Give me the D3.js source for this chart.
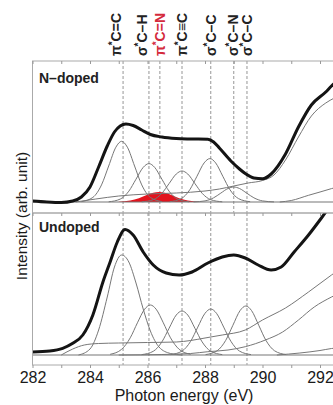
<!DOCTYPE html>
<html>
<head>
<meta charset="utf-8">
<script src="https://cdn.jsdelivr.net/npm/d3@7"></script>
<style>
  body { margin: 0; background: #fff; }
  svg { display: block; font-family: "Liberation Sans", Arial, sans-serif; }
</style>
</head>
<body>
<div id="chart"></div>
<script>
// peak assignments shown above the plot, and where they sit (eV)
var peakNames = [["π", "C=C"], ["σ", "C–H"], ["π", "C=N"], ["π", "C≡C"], ["σ", "C–C"], ["σ", "C–N"], ["σ", "C–C"]];
var peakEnergies = [285.15, 286.05, 286.43, 287.2, 288.2, 289.0, 289.46];
var undopedLines = [285.15, 286.05, 287.2, 288.2, 289.46];
var xTicks = [282, 283, 284, 285, 286, 287, 288, 289, 290, 291, 292, 293];
var xTickLabels = [282, 284, 286, 288, 290, 292];

// N-doped: measured spectrum [eV, intensity]
var ndTotal = [[282.0, 0.01], [282.5, 0.0], [283.0, -0.005], [283.4, 0.01], [283.7, 0.05], [284.0, 0.15],
  [284.3, 0.35], [284.6, 0.56], [284.85, 0.70], [285.05, 0.76], [285.25, 0.78], [285.5, 0.765], [285.8, 0.72],
  [286.1, 0.675], [286.5, 0.65], [287.0, 0.635], [287.5, 0.63], [288.1, 0.627], [288.3, 0.60], [288.5, 0.54],
  [288.9, 0.41], [289.2, 0.33], [289.4, 0.285], [289.7, 0.24], [290.0, 0.232], [290.3, 0.28], [290.8, 0.48],
  [291.25, 0.75], [291.7, 0.97], [292.2, 1.10], [292.4, 1.16], [292.8, 1.26]];
// N-doped fit components
var ndPeak1 = [[283.7, 0.004], [284.1, 0.046], [284.4, 0.171], [284.65, 0.36], [284.9, 0.548], [285.1, 0.607],
  [285.3, 0.548], [285.55, 0.36], [285.8, 0.171], [286.1, 0.046], [286.5, 0.004]];
var ndPeak2 = [[284.65, 0.002], [285.05, 0.029], [285.35, 0.108], [285.6, 0.228], [285.85, 0.346], [286.05, 0.384],
  [286.25, 0.346], [286.5, 0.228], [286.75, 0.108], [287.05, 0.029], [287.45, 0.002]];
var ndPeak3 = [[285.8, 0.002], [286.2, 0.023], [286.5, 0.087], [286.75, 0.184], [287.0, 0.28], [287.2, 0.31],
  [287.4, 0.28], [287.65, 0.184], [287.9, 0.087], [288.2, 0.023], [288.6, 0.002]];
var ndPeak4 = [[286.77, 0.003], [287.17, 0.033], [287.47, 0.122], [287.72, 0.257], [287.97, 0.391], [288.17, 0.434],
  [288.37, 0.391], [288.62, 0.257], [288.87, 0.122], [289.17, 0.033], [289.57, 0.003]];
var ndPeak5 = [[287.6, 0.001], [288.0, 0.011], [288.3, 0.042], [288.55, 0.089], [288.8, 0.135], [289.0, 0.15],
  [289.2, 0.135], [289.45, 0.089], [289.7, 0.042], [290.0, 0.011], [290.4, 0.001]];
var ndCN = [[285.0, 0.002], [285.4, 0.014], [285.7, 0.038], [285.95, 0.067], [286.2, 0.092], [286.4, 0.10],
  [286.6, 0.092], [286.85, 0.067], [287.1, 0.038], [287.4, 0.014], [287.8, 0.002]];
var ndBack1 = [[283.5, 0.0], [284.2, 0.03], [285.0, 0.06], [286.0, 0.08], [287.0, 0.09], [288.0, 0.11], [288.5, 0.13],
  [289.0, 0.16], [289.5, 0.19], [290.0, 0.215], [290.4, 0.27], [290.8, 0.42], [291.25, 0.65], [291.7, 0.86],
  [292.2, 0.99], [292.5, 1.04], [293.0, 1.10]];
var ndBack2 = [[290.6, 0.0], [291.0, 0.015], [291.6, 0.067], [292.0, 0.10], [292.4, 0.134], [293.0, 0.18]];

// Undoped: measured spectrum
var udTotal = [[282.0, 0.03], [282.6, 0.04], [283.05, 0.067], [283.4, 0.117], [283.75, 0.20], [284.1, 0.40],
  [284.45, 0.73], [284.7, 0.93], [284.95, 1.13], [285.22, 1.255], [285.5, 1.20], [285.85, 1.03], [286.2, 0.90],
  [286.65, 0.82], [287.1, 0.80], [287.55, 0.83], [288.1, 0.92], [288.6, 0.98], [289.0, 1.00], [289.4, 0.97],
  [289.85, 0.90], [290.3, 0.85], [290.65, 0.88], [291.1, 1.03], [291.6, 1.20], [292.05, 1.37], [292.5, 1.55],
  [293.0, 1.75]];
// Undoped fit components
var udPeak1 = [[283.6, 0.0], [284.0, 0.06], [284.3, 0.25], [284.6, 0.58], [284.85, 0.88], [285.1, 1.0],
  [285.35, 0.93], [285.6, 0.72], [285.85, 0.46], [286.1, 0.24], [286.4, 0.08], [286.8, 0.015], [287.2, 0.0]];
var udPeak2 = [[284.7, 0.007], [285.1, 0.057], [285.4, 0.172], [285.65, 0.322], [285.9, 0.458], [286.1, 0.50],
  [286.3, 0.458], [286.55, 0.322], [286.8, 0.172], [287.1, 0.057], [287.5, 0.007]];
var udPeak3 = [[285.8, 0.004], [286.2, 0.037], [286.5, 0.131], [286.75, 0.267], [287.0, 0.40], [287.2, 0.44],
  [287.4, 0.40], [287.65, 0.267], [287.9, 0.131], [288.2, 0.037], [288.6, 0.004]];
var udPeak4 = [[286.8, 0.004], [287.2, 0.039], [287.5, 0.137], [287.75, 0.279], [288.0, 0.417], [288.2, 0.46],
  [288.4, 0.417], [288.65, 0.279], [288.9, 0.137], [289.2, 0.039], [289.6, 0.004]];
var udPeak5 = [[288.02, 0.004], [288.42, 0.042], [288.72, 0.146], [288.97, 0.297], [289.22, 0.444], [289.42, 0.49],
  [289.62, 0.444], [289.87, 0.297], [290.12, 0.146], [290.42, 0.042], [290.82, 0.004]];
var udBack1 = [[283.0, 0.0], [283.4, 0.06], [283.8, 0.10], [284.3, 0.115], [285.0, 0.12], [286.0, 0.125],
  [287.0, 0.13], [287.5, 0.145], [288.0, 0.17], [288.6, 0.20], [289.4, 0.25], [290.0, 0.35], [290.8, 0.47],
  [291.6, 0.63], [292.4, 0.80], [293.0, 0.92]];
var udBack2 = [[285.0, 0.0], [286.5, 0.005], [287.5, 0.015], [288.1, 0.033], [288.8, 0.05], [289.4, 0.083],
  [290.1, 0.15], [290.7, 0.23], [291.25, 0.35], [291.8, 0.48], [292.4, 0.58], [293.0, 0.66]];
var udBack3 = [[290.5, 0.0], [291.3, 0.02], [292.0, 0.045], [292.4, 0.065], [293.0, 0.08]];

var width = 333, height = 405;
var left = 32.5, right = 348.75;

var svg = d3.select("#chart").append("svg")
    .attr("width", width)
    .attr("height", height);

var x = d3.scaleLinear().domain([282, 293]).range([left, right]);

var panels = [
    { name: "N–doped", top: 61, bottom: 213, dom: [-0.11, 1.41], total: ndTotal, red: ndCN,
      fits: [ndBack1, ndBack2, ndPeak1, ndPeak2, ndPeak3, ndPeak4, ndPeak5], lines: peakEnergies, labelY: 83 },
    { name: "Undoped", top: 213, bottom: 365, dom: [-0.10, 1.42], total: udTotal, red: null,
      fits: [udBack1, udBack2, udBack3, udPeak1, udPeak2, udPeak3, udPeak4, udPeak5], lines: undopedLines, labelY: 232 }
];

panels.forEach(function(p, i) {
    var y = d3.scaleLinear().domain(p.dom).range([p.bottom, p.top]);
    var g = svg.append("g");

    g.append("clipPath").attr("id", "clip" + i)
      .append("rect")
        .attr("x", left).attr("y", p.top)
        .attr("width", right - left).attr("height", p.bottom - p.top);

    var plot = g.append("g").attr("clip-path", "url(#clip" + i + ")");

    // dashed marker lines
    plot.selectAll(".vline").data(p.lines).enter().append("line")
        .attr("x1", function(d) { return x(d); })
        .attr("x2", function(d) { return x(d); })
        .attr("y1", p.top).attr("y2", p.bottom)
        .attr("stroke", "#8a8a8a").attr("stroke-width", 0.9)
        .attr("stroke-dasharray", "3,2");

    var line = d3.line()
        .x(function(d) { return x(d[0]); })
        .y(function(d) { return y(d[1]); })
        .curve(d3.curveMonotoneX);

    if (p.red) {
        var area = d3.area()
            .x(function(d) { return x(d[0]); })
            .y0(y(0))
            .y1(function(d) { return y(d[1]); })
            .curve(d3.curveMonotoneX);
        plot.append("path").datum(p.red)
            .attr("d", area)
            .attr("fill", "#e3141e");
    }

    // baseline
    plot.append("line")
        .attr("x1", x(282)).attr("x2", x(293))
        .attr("y1", y(0)).attr("y2", y(0))
        .attr("stroke", "#777").attr("stroke-width", 1.2);

    plot.selectAll(".fit").data(p.fits).enter().append("path")
        .attr("d", line)
        .attr("fill", "none")
        .attr("stroke", "#777")
        .attr("stroke-width", 1);

    plot.append("path").datum(p.total)
        .attr("d", line)
        .attr("fill", "none")
        .attr("stroke", "#141414")
        .attr("stroke-width", 3)
        .attr("stroke-linejoin", "round");

    // frame
    g.append("rect")
        .attr("x", left).attr("y", p.top)
        .attr("width", right - left).attr("height", p.bottom - p.top)
        .attr("fill", "none").attr("stroke", "#aaa").attr("stroke-width", 1);

    g.append("text")
        .attr("x", 39).attr("y", p.labelY)
        .attr("font-size", 14).attr("font-weight", "bold")
        .attr("fill", "#222")
        .text(p.name);
});

// small ticks along each horizontal edge
[61, 213, 365].forEach(function(yy) {
    var ax = svg.append("g")
        .attr("transform", "translate(0," + yy + ")")
        .call(d3.axisBottom(x).tickValues(xTicks).tickSize(3).tickFormat(""));
    ax.select(".domain").remove();
    ax.selectAll("line").attr("stroke", "#999");
});

var labels = svg.append("g")
    .attr("transform", "translate(0,365)")
    .call(d3.axisBottom(x).tickValues(xTickLabels).tickSize(0).tickPadding(7).tickFormat(d3.format("d")));
labels.select(".domain").remove();
labels.selectAll("text")
    .attr("font-size", 16)
    .attr("font-family", "Liberation Sans, Arial, sans-serif")
    .attr("fill", "#1a1a1a");

svg.append("text")
    .attr("x", 184).attr("y", 401)
    .attr("text-anchor", "middle")
    .attr("font-size", 16)
    .attr("fill", "#1a1a1a")
    .text("Photon energy (eV)");

svg.append("text")
    .attr("transform", "translate(27,216) rotate(-90)")
    .attr("text-anchor", "middle")
    .attr("font-size", 15.5)
    .attr("fill", "#1a1a1a")
    .text("Intensity (arb. unit)");

// rotated peak labels
var labelShift = [-7, -7, 0, 0, 0, -1, 0];
var peakText = svg.selectAll(".peak").data(peakNames).enter().append("text")
    .attr("transform", function(d, i) {
        return "translate(" + (x(peakEnergies[i]) + labelShift[i] + 5) + ",56) rotate(-90)";
    })
    .attr("font-size", 14)
    .attr("font-weight", "bold")
    .attr("fill", function(d, i) { return i == 2 ? "#d42a3c" : "#222"; });

peakText.append("tspan").text(function(d) { return d[0]; });
peakText.append("tspan").attr("font-size", 10).attr("dy", -5).text("*");
peakText.append("tspan").attr("dy", 5).text(function(d) { return d[1]; });
</script>
</body>
</html>
